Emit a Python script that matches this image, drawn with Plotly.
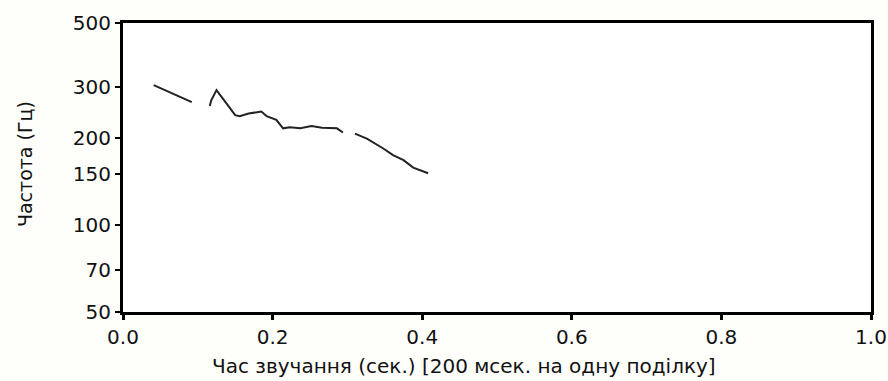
import plotly.graph_objects as go

# Pitch contour segments (time in s, frequency in Hz)
seg1_t = [0.041, 0.061, 0.092]
seg1_f = [305, 289, 266]

seg2_t = [0.116, 0.118, 0.125, 0.150, 0.156, 0.168, 0.185, 0.192, 0.205, 0.214,
          0.223, 0.237, 0.252, 0.266, 0.286, 0.294]
seg2_f = [258, 270, 293, 240, 238, 243, 247, 238, 231, 216,
          218, 216, 220, 217, 216, 209]

seg3_t = [0.310, 0.326, 0.348, 0.361, 0.375, 0.388, 0.408]
seg3_f = [207, 199, 184, 174.5, 167.6, 158, 151]

x_ticks = [0.0, 0.2, 0.4, 0.6, 0.8, 1.0]
x_tick_labels = ["0.0", "0.2", "0.4", "0.6", "0.8", "1.0"]
y_ticks = [50, 70, 100, 150, 200, 300, 500]
y_tick_labels = ["50", "70", "100", "150", "200", "300", "500"]

fig = go.Figure()
for t, f in [(seg1_t, seg1_f), (seg2_t, seg2_f), (seg3_t, seg3_f)]:
    fig.add_trace(go.Scatter(x=t, y=f, mode="lines",
                             line=dict(color="#222222", width=2),
                             showlegend=False, hoverinfo="skip"))

fam = "DejaVu Sans, Liberation Sans, Arial, sans-serif"

fig.update_layout(
    width=888, height=381,
    margin=dict(l=123, r=17, t=23, b=69, autoexpand=False),
    paper_bgcolor="#fefefb",
    plot_bgcolor="#ffffff",
    font=dict(family=fam, size=20, color="#111111"),
    xaxis=dict(
        range=[0, 1.0], tickvals=x_ticks, ticktext=x_tick_labels,
        showgrid=False, zeroline=False, automargin=False,
        showline=True, linecolor="black", linewidth=3, mirror=True,
        ticks="outside", ticklen=5, tickwidth=3, tickcolor="black",
        tickfont=dict(size=20),
    ),
    yaxis=dict(
        type="log", range=[1.69897, 2.69897],
        tickvals=y_ticks, ticktext=y_tick_labels,
        showgrid=False, zeroline=False, automargin=False,
        showline=True, linecolor="black", linewidth=3, mirror=True,
        ticks="outside", ticklen=5, tickwidth=2, tickcolor="black",
        tickfont=dict(size=20),
    ),
    annotations=[
        dict(text="Час звучання (сек.) [200 мсек. на одну поділку]",
             xref="paper", yref="paper", x=0.456, y=-0.186,
             xanchor="center", yanchor="middle", showarrow=False,
             font=dict(family=fam, size=20, color="#111111")),
        dict(text="Частота (Гц)", textangle=-90,
             xref="paper", yref="paper", x=-0.131, y=0.512,
             xanchor="center", yanchor="middle", showarrow=False,
             font=dict(family=fam, size=19, color="#111111")),
    ],
)

fig.write_html("out.html")
